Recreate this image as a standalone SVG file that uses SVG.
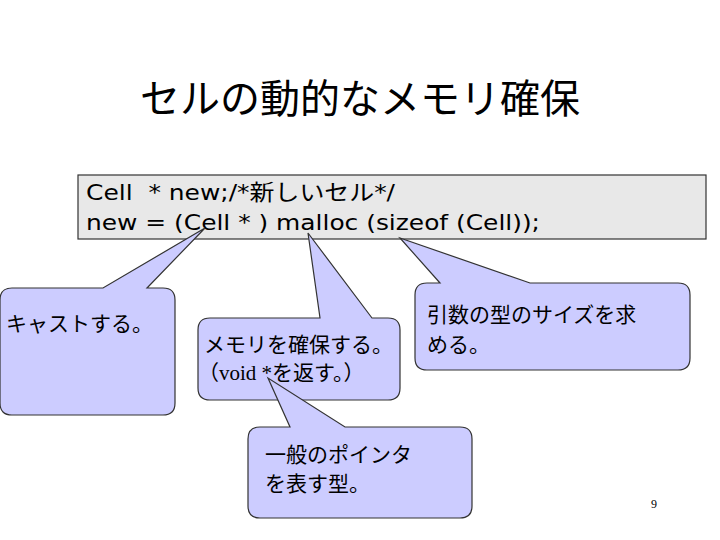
<svg xmlns="http://www.w3.org/2000/svg" width="720" height="540" viewBox="0 0 720 540">
<style>
text{font-family:"DejaVu Sans","Noto Sans CJK JP",sans-serif;fill:#000}
.t{font-size:40px}
.c{font-size:21px}
.k{font-size:22px}
.b{fill:#ccccff;stroke:#333;stroke-width:1.2}
.s{font-family:"Liberation Serif","Noto Sans CJK JP",serif}
</style>
<rect width="720" height="540" fill="#fff"/>
<g id="title"><text class="t" x="360" y="113" text-anchor="middle">セルの動的なメモリ確保</text></g>
<g id="code">
<rect x="78" y="175" width="628" height="64" fill="#e8e8e8" stroke="#333" stroke-width="1.2"/>
<text class="k" x="86" y="200" xml:space="preserve" textLength="309" lengthAdjust="spacingAndGlyphs">Cell  * new;/*新しいセル*/</text>
<text class="k" x="86" y="230" textLength="454" lengthAdjust="spacingAndGlyphs">new = (Cell * ) malloc (sizeof (Cell));</text>
</g>
<g id="connectors">
<g id="n1"><path class="b" d="M12,288 H103 L205,228 L147,288 H163 Q175,288 175,300 V403 Q175,415 163,415 H12 Q0,415 0,403 V300 Q0,288 12,288 Z"/>
<text class="c" x="6" y="331">キャストする。</text></g>
<g id="n2"><path class="b" d="M210,318 H320 L308,233 L372,318 H388 Q400,318 400,330 V388 Q400,400 388,400 H210 Q198,400 198,388 V330 Q198,318 210,318 Z"/>
<text class="c" x="204" y="352">メモリを確保する。</text>
<text class="c s" x="198" y="380">（void *を返す。）</text></g>
<g id="n3"><path class="b" d="M427,283 H440 L400,238 L530,283 H678 Q690,283 690,295 V358 Q690,370 678,370 H427 Q415,370 415,358 V295 Q415,283 427,283 Z"/>
<text class="c" x="427" y="322">引数の型のサイズを求</text>
<text class="c" x="427" y="352">める。</text></g>
<g id="n4"><path class="b" d="M260,427 H290 L268,378 L345,427 H460 Q472,427 472,439 V506 Q472,518 460,518 H260 Q248,518 248,506 V439 Q248,427 260,427 Z"/>
<text class="c" x="265" y="462">一般のポインタ</text>
<text class="c" x="265" y="491">を表す型。</text></g>
</g>
<g id="page"><text x="651" y="508" font-size="12" style="font-family:'Liberation Serif',serif">9</text></g>
</svg>
